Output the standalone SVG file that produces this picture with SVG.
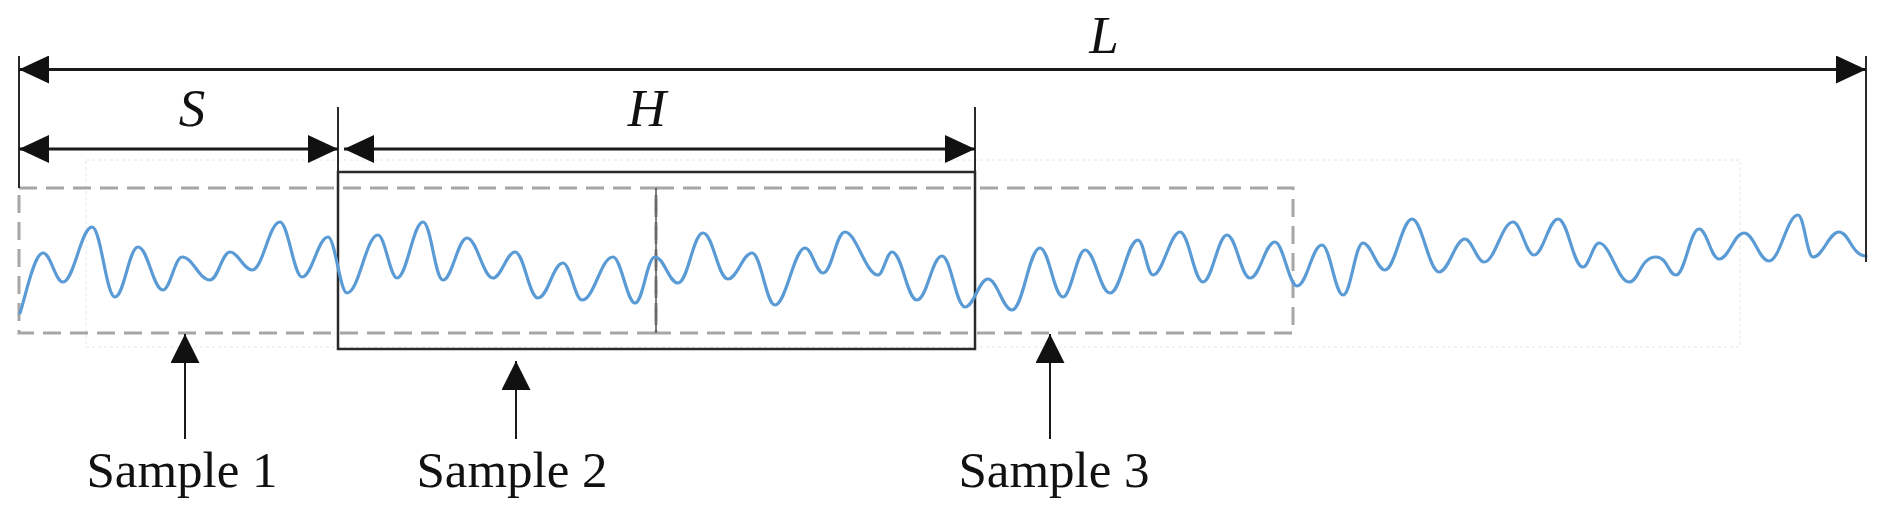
<svg xmlns="http://www.w3.org/2000/svg" width="1886" height="509" viewBox="0 0 1886 509">
<style>
.dim{stroke:#1a1a1a;stroke-width:3;fill:none}
.ext{stroke:#2a2a2a;stroke-width:2;fill:none}
.dash{stroke:#a6a6a6;stroke-width:3;stroke-dasharray:18 9;fill:none}
.faint{stroke:#e6e6e6;stroke-width:1;stroke-dasharray:3 3;fill:none}
.solid{stroke:#2a2a2a;stroke-width:2.5;fill:none}
.wave{stroke:#5b9bd5;stroke-width:3.2;fill:none;stroke-linejoin:round;stroke-linecap:round}
.lbl{font-family:"Liberation Serif","Times New Roman",serif;font-size:51px;fill:#111;text-anchor:middle}
.var{font-family:"Liberation Serif","Times New Roman",serif;font-size:53px;font-style:italic;fill:#111;text-anchor:middle}
.ptr{stroke:#1a1a1a;stroke-width:2;fill:none}
</style>
<defs>
<marker id="ah" markerUnits="userSpaceOnUse" markerWidth="30" markerHeight="28" refX="30" refY="14" orient="auto-start-reverse">
<path d="M0,0 L30,14 L0,28 z" fill="#111"/>
</marker>
<marker id="ah2" markerUnits="userSpaceOnUse" markerWidth="29" markerHeight="29" refX="29" refY="14.5" orient="auto">
<path d="M0,0 L29,14.5 L0,29 z" fill="#111"/>
</marker>
</defs>
<rect class="faint" x="86" y="160" width="1654" height="187"/>
<g id="sample1">
<rect class="dash" x="19" y="188" width="637" height="145"/>
</g>
<g id="sample3">
<rect class="dash" x="656" y="188" width="637" height="145"/>
</g>
<line x1="656" y1="188" x2="656" y2="333" stroke="#555" stroke-width="1.5"/>
<g id="sample2">
<rect class="solid" x="338" y="172" width="637" height="177"/>
</g>
<g id="signal">
<path class="wave" d="M20,313 C26,295 34,253 43,253 C51,253 55,282 63,282 C74,282 81,227 92,227 C101,227 106,297 115,297 C124,297 129,247 138,247 C148,247 153,290 163,290 C170,290 175,257 182,257 C193,257 199,280 210,280 C218,280 222,252 230,252 C238,252 244,270 252,270 C263,270 269,222 280,222 C288,222 294,277 302,277 C312,277 318,237 328,237 C335,237 340,293 347,293 C359,293 366,235 378,235 C385,235 390,278 397,278 C407,278 413,222 423,222 C431,222 435,280 443,280 C452,280 458,238 467,238 C477,238 483,278 493,278 C501,278 507,252 515,252 C524,252 529,298 538,298 C548,298 553,263 563,263 C570,263 575,300 582,300 C594,300 601,257 613,257 C621,257 627,303 635,303 C643,303 647,257 655,257 C664,257 669,283 678,283 C688,283 693,233 703,233 C713,233 718,279 728,279 C737,279 743,253 752,253 C761,253 766,305 775,305 C786,305 794,248 805,248 C812,248 816,273 823,273 C832,273 836,232 845,232 C856,232 866,275 878,275 C883,275 887,252 892,252 C902,252 907,300 917,300 C927,300 932,256 942,256 C951,256 956,307 965,307 C974,307 979,279 988,279 C997,279 1003,310 1012,310 C1023,310 1029,248 1040,248 C1049,248 1054,297 1063,297 C1071,297 1077,250 1085,250 C1095,250 1100,293 1110,293 C1121,293 1127,240 1138,240 C1144,240 1147,275 1153,275 C1163,275 1170,232 1180,232 C1189,232 1194,282 1203,282 C1212,282 1218,235 1227,235 C1236,235 1241,278 1250,278 C1260,278 1265,242 1275,242 C1283,242 1289,286 1297,286 C1307,286 1312,245 1322,245 C1330,245 1335,295 1343,295 C1351,295 1355,243 1363,243 C1371,243 1377,270 1385,270 C1395,270 1402,219 1412,219 C1422,219 1429,272 1439,272 C1449,272 1455,239 1465,239 C1472,239 1477,262 1484,262 C1495,262 1502,222 1513,222 C1521,222 1526,255 1534,255 C1543,255 1549,219 1558,219 C1568,219 1573,267 1583,267 C1589,267 1593,243 1599,243 C1610,243 1618,282 1629,282 C1639,282 1640,257 1656,257 C1668,257 1668,275 1676,275 C1685,275 1690,229 1699,229 C1707,229 1711,259 1719,259 C1729,259 1734,233 1744,233 C1754,233 1759,261 1769,261 C1780,261 1787,215 1798,215 C1804,215 1807,257 1813,257 C1823,257 1829,232 1839,232 C1849,232 1852,256 1866,256"/>
</g>
<g id="connectors">
<line class="ext" x1="19" y1="56" x2="19" y2="188"/>
<line class="ext" x1="338" y1="107" x2="338" y2="172"/>
<line class="ext" x1="975" y1="107" x2="975" y2="172"/>
<line class="ext" x1="1866" y1="56" x2="1866" y2="262"/>
<line class="dim" x1="19" y1="69.5" x2="1866" y2="69.5" marker-start="url(#ah)" marker-end="url(#ah)"/>
<line class="dim" x1="19" y1="149" x2="338" y2="149" marker-start="url(#ah)" marker-end="url(#ah)"/>
<line class="dim" x1="344" y1="149" x2="975" y2="149" marker-start="url(#ah)" marker-end="url(#ah)"/>
<line class="ptr" x1="185" y1="439" x2="185" y2="334" marker-end="url(#ah2)"/>
<line class="ptr" x1="516" y1="439" x2="516" y2="361" marker-end="url(#ah2)"/>
<line class="ptr" x1="1050" y1="439" x2="1050" y2="334" marker-end="url(#ah2)"/>
</g>
<g id="labels">
<text class="var" x="1104" y="53">L</text>
<text class="var" x="192" y="126">S</text>
<text class="var" x="647" y="126">H</text>
<text class="lbl" x="182" y="487">Sample 1</text>
<text class="lbl" x="512" y="487">Sample 2</text>
<text class="lbl" x="1054" y="487">Sample 3</text>
</g>
</svg>
